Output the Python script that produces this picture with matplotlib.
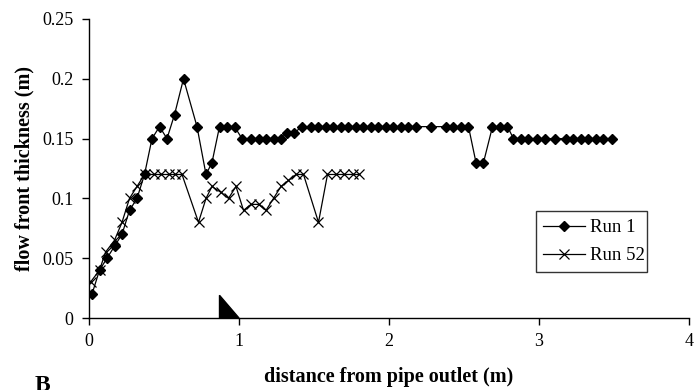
import matplotlib
matplotlib.use("Agg")
import matplotlib.pyplot as plt
from matplotlib.patches import Polygon

plt.rcParams['font.family'] = ['Liberation Serif', 'DejaVu Serif']

# Run 1 data (distance from pipe outlet, flow front thickness)
run1_x = [0.02, 0.07, 0.12, 0.17, 0.22, 0.27, 0.32, 0.37, 0.42, 0.47, 0.52, 0.57,
          0.63, 0.72, 0.78, 0.82, 0.87, 0.92, 0.97, 1.02, 1.08, 1.13, 1.18, 1.23,
          1.28, 1.32, 1.37, 1.42, 1.48, 1.53, 1.58, 1.63, 1.68, 1.73, 1.78, 1.83,
          1.88, 1.93, 1.98, 2.03, 2.08, 2.13, 2.18, 2.28, 2.38, 2.43, 2.48, 2.53,
          2.58, 2.63, 2.69, 2.74, 2.79, 2.83, 2.88, 2.93, 2.99, 3.04, 3.11, 3.18,
          3.23, 3.28, 3.33, 3.38, 3.43, 3.49]
run1_y = [0.02, 0.04, 0.05, 0.06, 0.07, 0.09, 0.10, 0.12, 0.15, 0.16, 0.15, 0.17,
          0.20, 0.16, 0.12, 0.13, 0.16, 0.16, 0.16, 0.15, 0.15, 0.15, 0.15, 0.15,
          0.15, 0.155, 0.155, 0.16, 0.16, 0.16, 0.16, 0.16, 0.16, 0.16, 0.16, 0.16,
          0.16, 0.16, 0.16, 0.16, 0.16, 0.16, 0.16, 0.16, 0.16, 0.16, 0.16, 0.16,
          0.13, 0.13, 0.16, 0.16, 0.16, 0.15, 0.15, 0.15, 0.15, 0.15, 0.15, 0.15,
          0.15, 0.15, 0.15, 0.15, 0.15, 0.15]

# Run 52 data
run52_x = [0.01, 0.07, 0.11, 0.17, 0.22, 0.27, 0.32, 0.37, 0.43, 0.48, 0.53, 0.57,
           0.62, 0.73, 0.78, 0.82, 0.88, 0.93, 0.98, 1.03, 1.08, 1.13, 1.18, 1.23,
           1.28, 1.33, 1.38, 1.43, 1.53, 1.59, 1.65, 1.70, 1.76, 1.80]
run52_y = [0.03, 0.04, 0.055, 0.065, 0.08, 0.10, 0.11, 0.12, 0.12, 0.12, 0.12, 0.12,
           0.12, 0.08, 0.10, 0.11, 0.105, 0.10, 0.11, 0.09, 0.095, 0.095, 0.09, 0.10,
           0.11, 0.115, 0.12, 0.12, 0.08, 0.12, 0.12, 0.12, 0.12, 0.12]

x_ticks = [0, 1, 2, 3, 4]
y_ticks = [0, 0.05, 0.1, 0.15, 0.2, 0.25]
y_tick_labels = ['0', '0.05', '0.1', '0.15', '0.2', '0.25']

# marker triangle near x = 1 m
tri_x0, tri_x1, tri_h = 0.87, 1.0, 0.019

fig = plt.figure(figsize=(6.97, 3.90), dpi=100)
ax = fig.add_axes([0.1277, 0.1846, 0.8608, 0.7667])

ax.plot(run1_x, run1_y, color='black', lw=0.9, marker='D', markersize=5.5,
        markerfacecolor='black', markeredgecolor='black', label='Run 1')
ax.plot(run52_x, run52_y, color='black', lw=0.9, marker='x', markersize=7,
        markeredgewidth=0.9, label='Run 52')

ax.add_patch(Polygon([(tri_x0, 0), (tri_x0, tri_h), (tri_x1, 0)],
                     closed=True, color='black', clip_on=False, zorder=3))

ax.set_xlim(0, 4)
ax.set_ylim(0, 0.25)
ax.set_xticks(x_ticks)
ax.set_xticklabels([str(t) for t in x_ticks])
ax.set_yticks(y_ticks)
ax.set_yticklabels(y_tick_labels)

for side in ['top', 'right']:
    ax.spines[side].set_visible(False)
ax.spines['left'].set_linewidth(1.0)
ax.spines['bottom'].set_linewidth(1.0)
ax.tick_params(axis='both', direction='out', length=5, width=1.0, labelsize=13, pad=6)

ax.set_xlabel('distance from pipe outlet (m)', fontsize=14.5, fontweight='bold', labelpad=12)
ax.set_ylabel('flow front thickness (m)', fontsize=14.5, fontweight='bold', labelpad=6)

leg = ax.legend(loc='lower left', bbox_to_anchor=(0.745, 0.154, 0.185, 0.217),
                mode='expand', fontsize=13.5, frameon=True, fancybox=False,
                edgecolor='black', handlelength=2.2, borderaxespad=0,
                labelspacing=0.6, handletextpad=0.3)
leg.get_frame().set_linewidth(1.0)

fig.text(0.05, -0.015, 'B', fontsize=17, fontweight='bold', va='bottom')

fig.savefig('out.png', dpi=100)
